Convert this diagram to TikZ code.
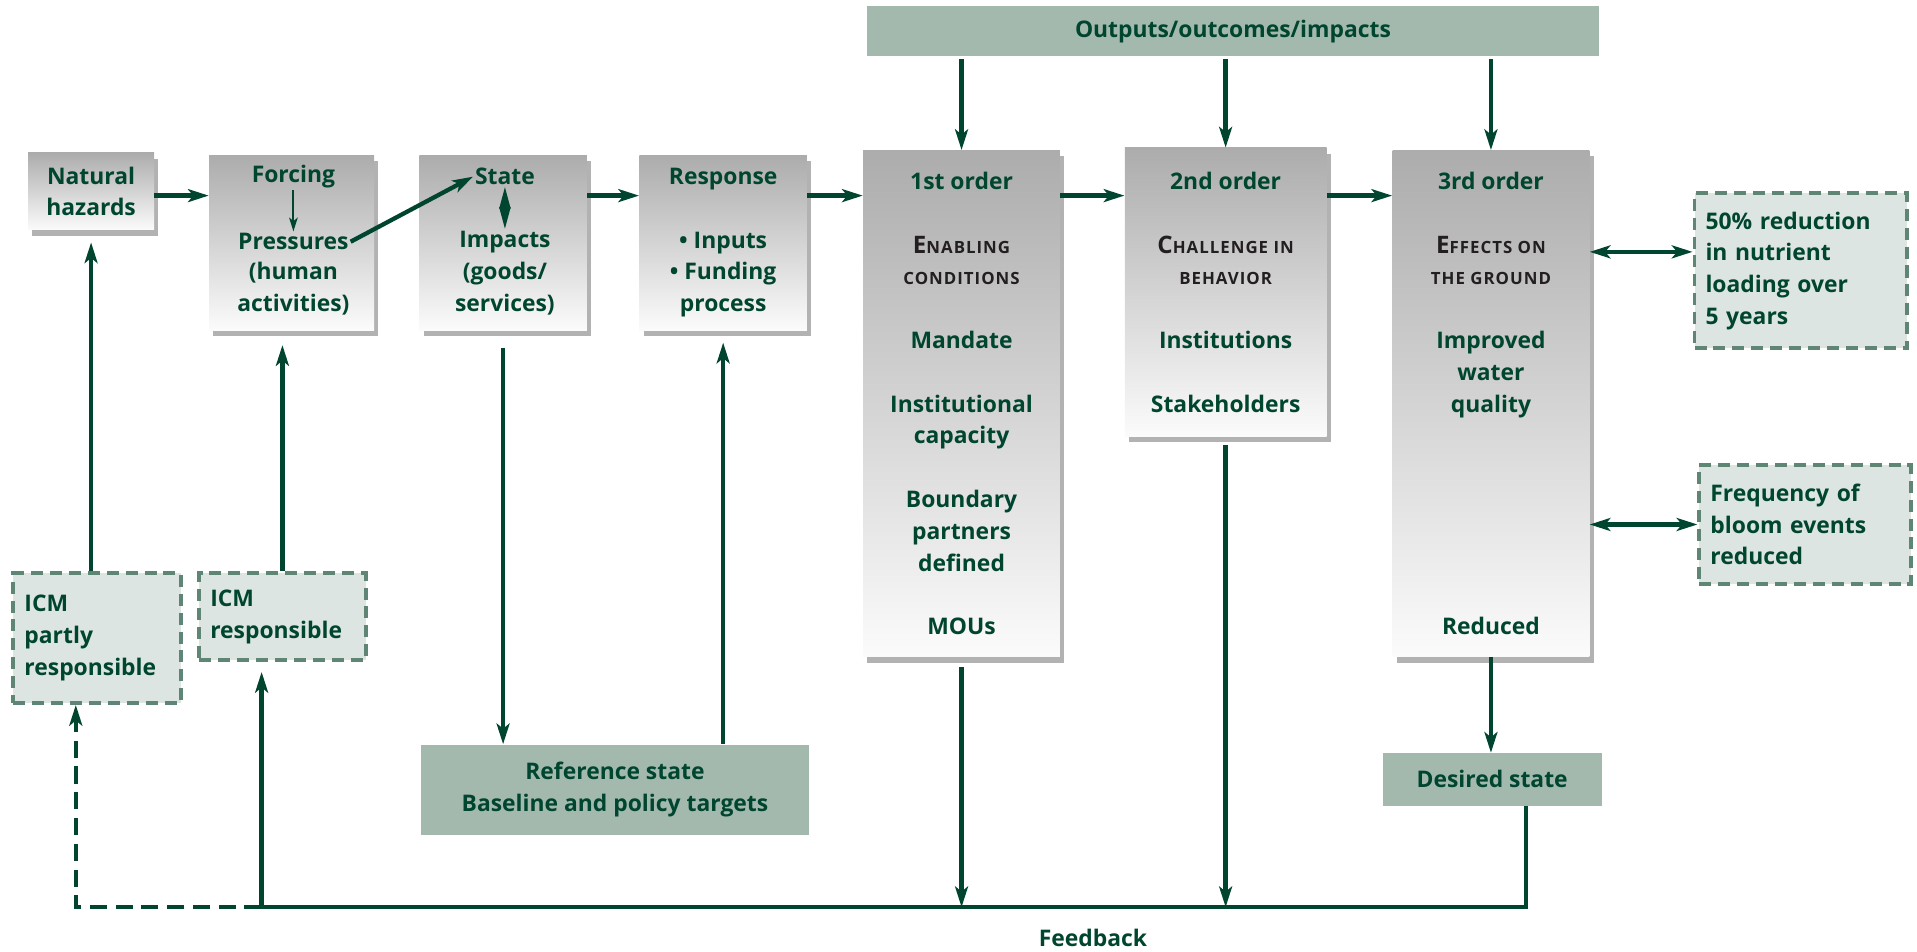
\documentclass[tikz,border=0pt]{standalone}
\usepackage{fontspec}
\setmainfont{Open Sans}
\usepackage{xcolor}
\usetikzlibrary{arrows.meta}
\usetikzlibrary{shadows}
\usetikzlibrary{positioning}
\definecolor{dkgreen}{HTML}{00452F}
\definecolor{boxgreen}{HTML}{A3B9AE}
\definecolor{palegreen}{HTML}{DCE5E1}
\definecolor{dashgreen}{HTML}{5F8575}
\definecolor{capgray}{HTML}{231F20}
\newlength{\unitpx}
\setlength{\unitpx}{0.025cm}
\newcommand{\boxfont}{\bfseries\fontsize{13.3}{18.5}\selectfont}
\newcommand{\scword}[2]{{\color{capgray}{\fontsize{14}{18.5}\selectfont #1}{\fontsize{9.8}{18.5}\selectfont\addfontfeature{LetterSpace=6}#2}}}
\newcommand{\scsmall}[1]{{\color{capgray}\fontsize{9.8}{18.5}\selectfont\addfontfeature{LetterSpace=6}#1}}
\tikzset{shade box/.style={top color=gray!65,bottom color=gray!3,drop shadow={shadow xshift=2.5pt,shadow yshift=-3.5pt,opacity=0.5,fill=black!60},inner sep=0pt,align=center,text=dkgreen,font=\boxfont}}
\tikzset{green box/.style={fill=boxgreen,inner sep=0pt,align=center,text=dkgreen,font=\boxfont}}
\tikzset{dash box/.style={draw=dashgreen,fill=palegreen,line width=2.3pt,dash pattern=on 7pt off 4pt,align=left,text=dkgreen,font=\boxfont,inner xsep=9\unitpx,inner ysep=4pt}}
\tikzset{box text/.style={inner sep=1pt,align=center,text=dkgreen,font=\boxfont}}
\tikzset{flow/.style={draw=dkgreen,line width=2.5pt,-{Stealth[length=12pt,width=7.5pt,inset=3pt]}}}
\tikzset{twin flow/.style={draw=dkgreen,line width=2.5pt,{Stealth[length=12pt,width=7.5pt,inset=3pt]}-{Stealth[length=12pt,width=7.5pt,inset=3pt]}}}
\tikzset{thin flow/.style={draw=dkgreen,line width=1.1pt,-{Stealth[length=8pt,width=5pt,inset=2pt]}}}
\tikzset{twin/.style={draw=dkgreen,line width=0.8pt,{Stealth[length=12.5pt,width=6.5pt,inset=0pt]}-{Stealth[length=12.5pt,width=6.5pt,inset=0pt]}}}
\tikzset{dash flow/.style={flow,dash pattern=on 10pt off 5pt}}

\begin{document}
\begin{tikzpicture}[x=0.025cm,y=-0.025cm]
	\useasboundingbox (0,0) rectangle (1568,778);

	\node[green box,minimum width=599\unitpx,minimum height=41\unitpx] (outputs) at (1008.5,25.5) {Outputs/outcomes/impacts};

	\node[shade box,minimum width=103\unitpx,minimum height=63\unitpx] (natural) at (74.5,156.5) {Natural\\hazards};
	\node[shade box,minimum width=135\unitpx,minimum height=143\unitpx] (forcing) at (238.5,198.5) {};
	\node[shade box,minimum width=137\unitpx,minimum height=143\unitpx] (state) at (411.5,198.5) {};
	\node[shade box,minimum width=137\unitpx,minimum height=143\unitpx] (response) at (591.5,198.5) {Response\\[18.5pt]\textbullet\ Inputs\\\textbullet\ Funding\\process};
	\node[shade box,minimum width=161\unitpx,minimum height=414\unitpx] (first) at (786.5,330) {1st order\\[18.5pt]\scword{E}{NABLING}\\\scsmall{CONDITIONS}\\[18.5pt]Mandate\\[18.5pt]Institutional\\capacity\\[18.5pt]Boundary\\partners\\defined\\[18.5pt]MOUs};
	\node[shade box,minimum width=165\unitpx,minimum height=236\unitpx] (second) at (1002.5,239) {2nd order\\[18.5pt]\scword{C}{HALLENGE IN}\\\scsmall{BEHAVIOR}\\[18.5pt]Institutions\\[18.5pt]Stakeholders};
	\node[shade box,minimum width=161\unitpx,minimum height=414\unitpx] (third) at (1219.5,330) {3rd order\\[18.5pt]\scword{E}{FFECTS ON}\\\scsmall{THE GROUND}\\[18.5pt]Improved\\water\\quality\\[111pt]Reduced};

	\node[box text] (forcingT) at (240,144.5) {Forcing};
	\node[box text] (pressT) at (240,197.7) {Pressures};
	\node[box text] (humanT) at (240,236.3) {(human\\activities)};
	\node[box text] (stateT) at (413,144.5) {State};
	\node[box text] (impactT) at (413,197.7) {Impacts};
	\node[box text] (goodsT) at (413,236.3) {(goods/\\services)};

	\node[dash box,text width=156\unitpx,minimum height=127\unitpx] (nutrient) at (1473,221.5) {50\% reduction\\in nutrient\\loading over\\5 years};
	\node[dash box,text width=155\unitpx,minimum height=97\unitpx] (bloom) at (1476.5,429) {Frequency of\\bloom events\\reduced};
	\node[dash box,text width=119\unitpx,minimum height=106\unitpx] (icmp) at (79.5,522) {ICM\\partly\\responsible};
	\node[dash box,text width=118\unitpx,minimum height=71\unitpx] (icmr) at (231,504.5) {ICM\\responsible};

	\node[green box,minimum width=318\unitpx,minimum height=74\unitpx] (refstate) at (503,646) {Reference state\\Baseline and policy targets};
	\node[green box,minimum width=179\unitpx,minimum height=43\unitpx] (desired) at (1220.5,637.5) {Desired state};
	\node[box text] (feedback) at (894,767) {Feedback};

	\coordinate (row) at (0,160);
	\coordinate (fbR) at (1248,742);
	\coordinate (fbL) at (214,742);
	\coordinate (fbD) at (62,742);

	\draw[flow] (natural.east |- row) -- (forcing.west |- row);
	\draw[flow] (state.east |- row) -- (response.west |- row);
	\draw[flow] (response.east |- row) -- (first.west |- row);
	\draw[flow] (first.east |- row) -- (second.west |- row);
	\draw[flow] (second.east |- row) -- (third.west |- row);
	\draw[thin flow] (forcingT) -- (pressT);
	\draw[flow] (pressT.east) -- (stateT.west);
	\draw[twin] (stateT) -- (impactT);

	\foreach \n in {first,second,third}
		\draw[flow,shorten <=2\unitpx] (outputs.south -| \n.north) -- (\n.north);

	\draw[twin flow] (third.east |- 0,206) -- (nutrient.west |- 0,206);
	\draw[twin flow] (third.east |- bloom.west) -- (bloom.west);

	\draw[flow,shorten >=10\unitpx] (icmp.north -| natural.south) -- (natural.south);
	\draw[flow,shorten >=12\unitpx] (icmr.north) -- (icmr.north |- forcing.south);
	\draw[flow,shorten <=14\unitpx] (state.south) -- (state.south |- refstate.north);
	\draw[flow,shorten >=10\unitpx] (response.south |- refstate.north) -- (response.south);
	\draw[flow,shorten <=8\unitpx] (first.south) -- (first.south |- fbR);
	\draw[flow,shorten <=7\unitpx] (second.south) -- (second.south |- fbR);
	\draw[flow] (third.south) -- (third.south |- desired.north);
	\draw[flow,shorten >=8\unitpx] (desired.south -| fbR) -- (fbR) -- (fbL) -- (fbL |- icmr.south);
	\draw[dash flow] (fbL) -- (fbD) -- (fbD |- icmp.south);
\end{tikzpicture}
\end{document}
